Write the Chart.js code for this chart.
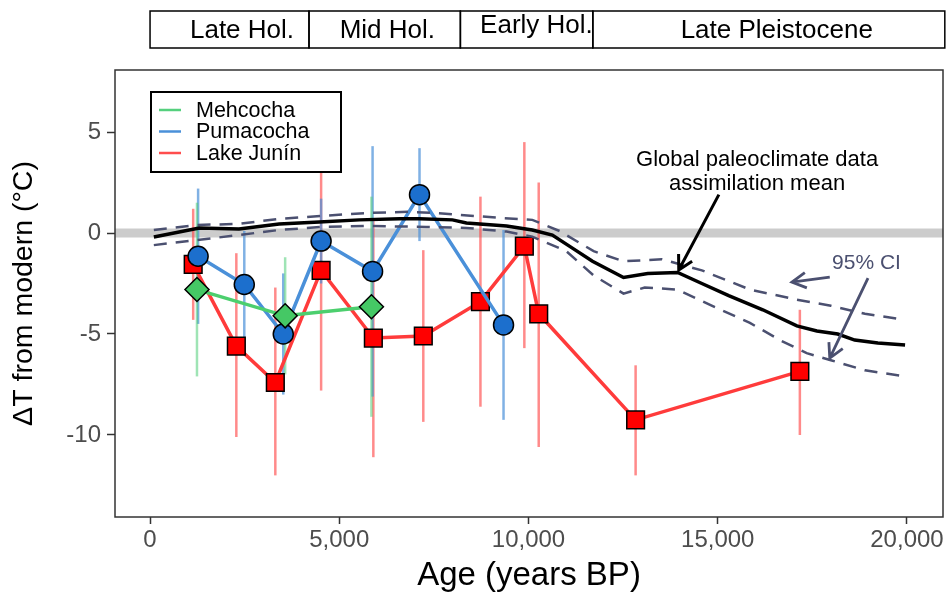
<!DOCTYPE html>
<html>
<head>
<meta charset="utf-8">
<title>Temperature change since the Late Pleistocene</title>
<script src="https://cdn.jsdelivr.net/npm/chart.js@4.4.0/dist/chart.umd.min.js"></script>
<style>
body{margin:0;background:#fff}
#wrap{width:950px;height:596px}
</style>
</head>
<body>
<div id="wrap"><canvas id="myChart" width="950" height="596"></canvas></div>
<script>
// Mehcocha
var mehAge = [1240, 3570, 5850];
var mehT   = [-2.8, -4.1, -3.65];
var mehHi  = [1.5, -1.2, 1.8];
var mehLo  = [-7.1, -7.0, -9.1];

// Pumacocha
var pumAge = [1270, 2490, 3520, 4520, 5880, 7120, 9340];
var pumT   = [-1.15, -2.55, -5.0, -0.4, -1.9, 1.9, -4.55];
var pumHi  = [2.2, 0.1, -2.0, 1.7, 4.3, 4.2, 0.15];
var pumLo  = [-4.5, -5.2, -8.0, -2.5, -8.1, -0.4, -9.25];

// Lake Junin
var junAge = [1140, 2280, 3310, 4520, 5900, 7220, 8730, 9890, 10270, 12830, 17170];
var junT   = [-1.55, -5.6, -7.4, -1.85, -5.2, -5.1, -3.4, -0.65, -4.0, -9.25, -6.85];
var junHi  = [1.2, -1.0, -2.7, 4.1, 0.7, -0.85, 1.8, 4.5, 2.5, -6.55, -3.8];
var junLo  = [-4.3, -10.1, -12.0, -7.8, -11.1, -9.35, -8.6, -5.7, -10.6, -12.0, -10.0];

// global data assimilation mean and 95% CI
var meanAge = [100, 1300, 2350, 3410, 4470, 5530, 6590, 7120, 7990, 8360, 9420, 10100, 10630, 11160, 11690, 12510, 13150, 13940, 14580, 15290, 16190, 17090, 17620, 18170, 18620, 19230, 19950];
var meanT   = [-0.2, 0.25, 0.2, 0.45, 0.55, 0.65, 0.7, 0.7, 0.65, 0.5, 0.35, 0.15, -0.1, -0.75, -1.4, -2.2, -2.0, -1.95, -2.5, -3.1, -3.8, -4.6, -4.85, -5.0, -5.3, -5.45, -5.55];
var upAge = [100, 1240, 2350, 3410, 4550, 5790, 6850, 7460, 9230, 10100, 10820, 11720, 12510, 13520, 14580, 15850, 17090, 17990, 18890, 19950];
var upT   = [0.15, 0.4, 0.45, 0.7, 0.85, 1.0, 1.05, 1.0, 0.75, 0.65, 0.1, -0.9, -1.4, -1.3, -1.85, -2.8, -3.3, -3.6, -4.0, -4.3];
var loAge = [100, 1240, 2350, 3410, 4550, 5790, 7300, 8360, 9420, 10100, 11000, 11720, 12510, 13070, 13940, 14840, 15850, 16640, 17350, 17990, 18890, 19950];
var loT   = [-0.6, -0.35, -0.1, 0.15, 0.3, 0.35, 0.3, 0.25, 0.07, -0.18, -0.9, -2.1, -3.0, -2.7, -2.8, -3.6, -4.45, -5.3, -5.95, -6.3, -6.8, -7.1];

var xTicks = [0, 5000, 10000, 15000, 20000];
var yTicks = [-10, -5, 0, 5];

// period bands along the top
var periodNames = ['Late Hol.', 'Mid Hol.', 'Early Hol.', 'Late Pleistocene'];
var periodStart = [0, 4200, 8200, 11700];
var periodEnd   = [4200, 8200, 11700, 21000];
var periodLabelAt = [2430, 6270, 10210, 16560];

function pts(xs, ys) { return xs.map(function(v, i) { return {x: v, y: ys[i]}; }); }

var FONT = '"Liberation Sans", Arial, Helvetica, sans-serif';
var SLATE = '#4b5070';

var errSets = [
  {age: junAge, hi: junHi, lo: junLo, color: 'rgba(255,60,60,0.6)'},
  {age: pumAge, hi: pumHi, lo: pumLo, color: 'rgba(74,144,217,0.7)'},
  {age: mehAge, hi: mehHi, lo: mehLo, color: 'rgba(80,205,120,0.55)'}
];

var legendItems = [
  {label: 'Mehcocha', color: '#55d07e'},
  {label: 'Pumacocha', color: '#4a90d9'},
  {label: 'Lake Junín', color: '#ff4d4d'}
];

function arrow(ctx, x1, y1, x2, y2, head) {
  var a = Math.atan2(y2 - y1, x2 - x1);
  ctx.beginPath();
  ctx.moveTo(x1, y1); ctx.lineTo(x2, y2);
  ctx.moveTo(x2 - head * Math.cos(a - 0.5), y2 - head * Math.sin(a - 0.5));
  ctx.lineTo(x2, y2);
  ctx.lineTo(x2 - head * Math.cos(a + 0.5), y2 - head * Math.sin(a + 0.5));
  ctx.stroke();
}

// zero line and error bars behind the series
var underlay = {
  id: 'underlay',
  beforeDatasetsDraw: function(chart) {
    var ctx = chart.ctx, a = chart.chartArea, x = chart.scales.x, y = chart.scales.y;
    ctx.save();
    ctx.beginPath(); ctx.rect(a.left, a.top, a.right - a.left, a.bottom - a.top); ctx.clip();
    var y0 = y.getPixelForValue(0);
    ctx.fillStyle = '#cccccc';
    ctx.fillRect(a.left, y0 - 4.5, a.right - a.left, 9);
    ctx.lineWidth = 2.5;
    errSets.forEach(function(s) {
      ctx.strokeStyle = s.color;
      s.age.forEach(function(v, i) {
        var px = x.getPixelForValue(v);
        ctx.beginPath();
        ctx.moveTo(px, y.getPixelForValue(s.hi[i]));
        ctx.lineTo(px, y.getPixelForValue(s.lo[i]));
        ctx.stroke();
      });
    });
    ctx.restore();
  }
};

// frame, legend, annotations and period bands
var overlay = {
  id: 'overlay',
  afterDraw: function(chart) {
    var ctx = chart.ctx, a = chart.chartArea, x = chart.scales.x, y = chart.scales.y;
    ctx.save();
    ctx.strokeStyle = '#333333';
    ctx.lineWidth = 1.5;
    ctx.strokeRect(a.left, a.top, a.right - a.left, a.bottom - a.top);

    // legend
    ctx.strokeStyle = '#000';
    ctx.lineWidth = 2;
    ctx.fillStyle = '#fff';
    ctx.fillRect(151, 92, 190, 80);
    ctx.strokeRect(151, 92, 190, 80);
    ctx.font = '21.5px ' + FONT;
    ctx.textBaseline = 'middle';
    ctx.textAlign = 'left';
    legendItems.forEach(function(it, i) {
      var ly = 110 + i * 21.5;
      ctx.strokeStyle = it.color;
      ctx.lineWidth = 2.5;
      ctx.beginPath(); ctx.moveTo(159, ly); ctx.lineTo(181, ly); ctx.stroke();
      ctx.fillStyle = '#000';
      ctx.fillText(it.label, 196, ly + 1);
    });

    // data assimilation label
    ctx.fillStyle = '#000';
    ctx.textAlign = 'center';
    ctx.font = '22px ' + FONT;
    ctx.fillText('Global paleoclimate data', x.getPixelForValue(16040), y.getPixelForValue(3.6));
    ctx.fillText('assimilation mean', x.getPixelForValue(16040), y.getPixelForValue(2.45));
    ctx.strokeStyle = '#000';
    ctx.lineWidth = 3;
    arrow(ctx, x.getPixelForValue(15030), y.getPixelForValue(1.9),
               x.getPixelForValue(13970), y.getPixelForValue(-1.83), 16);

    // CI label
    ctx.fillStyle = SLATE;
    ctx.font = '21px ' + FONT;
    ctx.fillText('95% CI', x.getPixelForValue(18930), y.getPixelForValue(-1.5));
    ctx.strokeStyle = SLATE;
    ctx.lineWidth = 2.8;
    arrow(ctx, x.getPixelForValue(17960), y.getPixelForValue(-2.18),
               x.getPixelForValue(16960), y.getPixelForValue(-2.43), 16);
    arrow(ctx, x.getPixelForValue(18970), y.getPixelForValue(-2.23),
               x.getPixelForValue(17960), y.getPixelForValue(-6.19), 16);

    // period bands
    ctx.strokeStyle = '#000';
    ctx.lineWidth = 1.5;
    ctx.font = '26px ' + FONT;
    ctx.fillStyle = '#000';
    periodNames.forEach(function(n, i) {
      var x1 = x.getPixelForValue(periodStart[i]), x2 = x.getPixelForValue(periodEnd[i]);
      ctx.strokeRect(x1, 11, x2 - x1, 37);
      ctx.fillText(n, x.getPixelForValue(periodLabelAt[i]), i === 2 ? 26 : 31);
    });
    ctx.restore();
  }
};

var ctx = document.getElementById('myChart');
var myChart = new Chart(ctx, {
  type: 'scatter',
  data: {
    datasets: [
      {label: 'mean', data: pts(meanAge, meanT), showLine: true, borderColor: '#000', borderWidth: 3.5, pointRadius: 0, order: 0},
      {label: 'upper', data: pts(upAge, upT), showLine: true, borderColor: SLATE, borderWidth: 2.5, borderDash: [13, 9], pointRadius: 0, order: 1},
      {label: 'lower', data: pts(loAge, loT), showLine: true, borderColor: SLATE, borderWidth: 2.5, borderDash: [13, 9], pointRadius: 0, order: 2},
      {label: 'Mehcocha', data: pts(mehAge, mehT), showLine: true, borderColor: '#4ccf6e', borderWidth: 3.5,
       pointStyle: 'rectRot', pointRadius: 12, pointBackgroundColor: '#45c865', pointBorderColor: '#000', pointBorderWidth: 1.5, order: 3},
      {label: 'Pumacocha', data: pts(pumAge, pumT), showLine: true, borderColor: '#4a90d9', borderWidth: 3.5,
       pointStyle: 'circle', pointRadius: 10, pointBackgroundColor: '#1c6fcd', pointBorderColor: '#000', pointBorderWidth: 1.5, order: 4},
      {label: 'Lake Junín', data: pts(junAge, junT), showLine: true, borderColor: '#ff3b3b', borderWidth: 3.5,
       pointStyle: 'rect', pointRadius: 12.5, pointBackgroundColor: '#ff0000', pointBorderColor: '#000', pointBorderWidth: 1.5, order: 5}
    ]
  },
  options: {
    responsive: false,
    animation: false,
    layout: {autoPadding: false, padding: {top: 70, right: 7, left: 0, bottom: 0}},
    plugins: {legend: {display: false}, tooltip: {enabled: false}},
    scales: {
      x: {
        type: 'linear', min: -926, max: 20952,
        afterBuildTicks: function(s) { s.ticks = xTicks.map(function(v) { return {value: v}; }); },
        afterFit: function(s) { s.height = 79; s.paddingLeft = 0; s.paddingRight = 0; },
        ticks: {color: '#4d4d4d', font: {size: 24, family: FONT}, padding: 2, maxRotation: 0,
                callback: function(v) { return v.toLocaleString('en-US'); }},
        grid: {drawOnChartArea: false, tickLength: 7, tickColor: '#333', tickWidth: 1.5},
        border: {display: false},
        title: {display: true, text: 'Age (years BP)', color: '#000', font: {size: 33, family: FONT}, padding: {top: 0, bottom: 0}}
      },
      y: {
        type: 'linear', min: -14.06, max: 8.07,
        afterBuildTicks: function(s) { s.ticks = yTicks.map(function(v) { return {value: v}; }); },
        afterFit: function(s) { s.width = 115; },
        ticks: {color: '#4d4d4d', font: {size: 24, family: FONT}, padding: 6},
        grid: {drawOnChartArea: false, tickLength: 8, tickColor: '#333', tickWidth: 1.5},
        border: {display: false},
        title: {display: true, text: 'ΔT from modern (°C)', color: '#000', font: {size: 28.5, family: FONT}, padding: {top: 7, bottom: 0}}
      }
    }
  },
  plugins: [underlay, overlay]
});
</script>
</body>
</html>
